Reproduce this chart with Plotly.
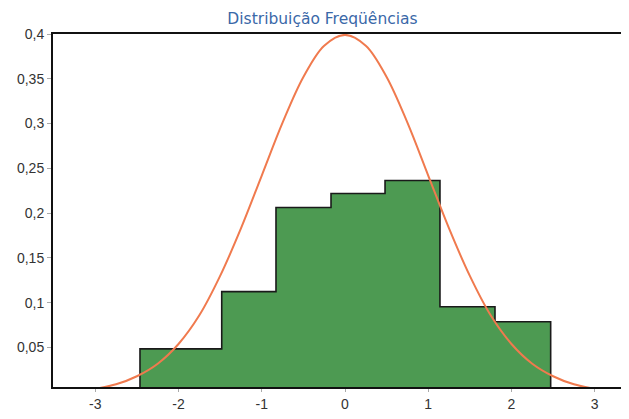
import plotly.graph_objects as go

# Histogram bins (edges) and relative frequencies
bin_edges = [-2.463, -1.481, -0.829, -0.168, 0.481, 1.141, 1.802, 2.471]
bin_heights = [0.0485, 0.1125, 0.2063, 0.222, 0.2365, 0.0955, 0.0788]

# Orange reference curve
curve_x = [-3, -2.75, -2.5, -2.25, -2, -1.75, -1.5, -1.25, -1, -0.75, -0.5, -0.25, 0,
           0.25, 0.5, 0.75, 1, 1.25, 1.5, 1.75, 2, 2.25, 2.5, 2.75, 3]
curve_y = [0.004, 0.009, 0.018, 0.032, 0.054, 0.086, 0.130, 0.183, 0.242, 0.301, 0.352, 0.387, 0.399,
           0.387, 0.352, 0.301, 0.242, 0.183, 0.130, 0.086, 0.054, 0.032, 0.018, 0.009, 0.004]

y_tickvals = [0.05, 0.1, 0.15, 0.2, 0.25, 0.3, 0.35, 0.4]
y_ticktext = ["0,05", "0,1", "0,15", "0,2", "0,25", "0,3", "0,35", "0,4"]
x_tickvals = [-3, -2, -1, 0, 1, 2, 3]
x_ticktext = ["-3", "-2", "-1", "0", "1", "2", "3"]

title_text = "Distribuição Freqüências"

centers = [(a + b) / 2 for a, b in zip(bin_edges[:-1], bin_edges[1:])]
widths = [b - a for a, b in zip(bin_edges[:-1], bin_edges[1:])]

fig = go.Figure()
fig.add_trace(go.Bar(
    x=centers, y=bin_heights, width=widths,
    marker=dict(color="#4d9a52", line=dict(width=0)),
    showlegend=False, hoverinfo="skip",
))

# step outline around the bars
step_x = [bin_edges[0]] + bin_edges[:-1] + [bin_edges[-1]]
step_y = [0] + bin_heights + [0]
fig.add_trace(go.Scatter(
    x=step_x, y=step_y, mode="lines",
    line=dict(color="#1a1a1a", width=1.6, shape="hv"),
    showlegend=False, hoverinfo="skip",
))

fig.add_trace(go.Scatter(
    x=curve_x, y=curve_y, mode="lines",
    line=dict(color="#f07a4e", width=2, shape="spline"),
    showlegend=False,
))

font_family = "Liberation Sans, Arial, sans-serif"
# note: the page body adds an 8px offset, margins compensate for it
fig.update_layout(
    width=629, height=419,
    margin=dict(l=45, r=8, t=26, b=40),
    paper_bgcolor="white", plot_bgcolor="white",
    bargap=0,
    title=dict(text=title_text, x=0.5, xanchor="center", y=0.975, yanchor="middle",
               font=dict(family="DejaVu Sans, Verdana, sans-serif", size=15.5, color="#3a68a8")),
    font=dict(family=font_family, size=14, color="#333333"),
)
fig.update_xaxes(
    range=[-3.508, 3.412], showgrid=False, zeroline=False,
    showline=True, linecolor="#111111", linewidth=2, mirror=True,
    tickvals=x_tickvals, ticktext=x_ticktext,
    ticks="outside", ticklen=3, tickcolor="#aaaaaa",
)
fig.update_yaxes(
    range=[0.006, 0.4], showgrid=False, zeroline=False,
    showline=True, linecolor="#111111", linewidth=2,
    tickvals=y_tickvals, ticktext=y_ticktext,
    ticks="outside", ticklen=4, tickcolor="#aaaaaa",
)

fig.write_html("out.html")
